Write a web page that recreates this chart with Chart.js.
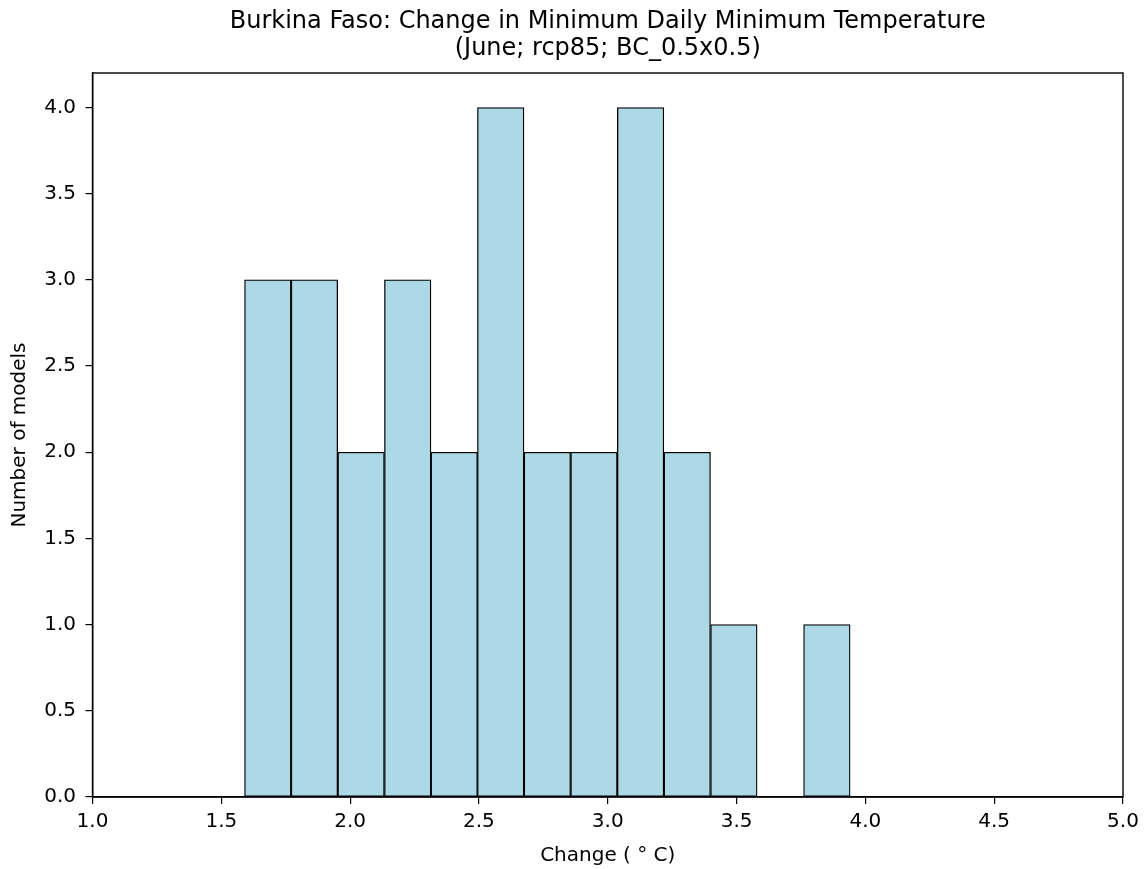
<!DOCTYPE html>
<html>
<head>
<meta charset="utf-8">
<script src="https://cdn.jsdelivr.net/npm/chart.js@4.4.1/dist/chart.umd.min.js"></script>
<style>
  html, body { margin: 0; padding: 0; background: #ffffff; }
  #wrap { width: 1144px; height: 869px; position: relative; }
</style>
</head>
<body>
<div id="wrap"><canvas id="c" width="1144" height="869"></canvas></div>
<script>
// Histogram bin edges (°C) and counts
const binEdges = [1.590, 1.771, 1.952, 2.133, 2.314, 2.494, 2.675, 2.856, 3.037, 3.218, 3.399, 3.580, 3.760, 3.941];
const counts   = [3, 3, 2, 3, 2, 4, 2, 2, 4, 2, 1, 0, 1];
const xTicks = [1.0, 1.5, 2.0, 2.5, 3.0, 3.5, 4.0, 4.5, 5.0];
const yTicks = [0.0, 0.5, 1.0, 1.5, 2.0, 2.5, 3.0, 3.5, 4.0];
const titleLines = ['Burkina Faso: Change in Minimum Daily Minimum Temperature', '(June; rcp85; BC_0.5x0.5)'];
const xLabel = 'Change ( \u00B0 C)';
const yLabel = 'Number of models';

const points = counts.map((c, i) => ({ x: (binEdges[i] + binEdges[i + 1]) / 2, y: c }));

const FONT = 'DejaVu Sans';

const framePlugin = {
  id: 'frame',
  afterDatasetsDraw(chart) {
    const { ctx, chartArea: a } = chart;
    ctx.save();
    ctx.strokeStyle = '#000';
    ctx.lineWidth = 1.4;
    ctx.strokeRect(a.left, a.top, a.right - a.left, a.bottom - a.top);
    ctx.restore();
  }
};

new Chart(document.getElementById('c'), {
  type: 'bar',
  data: {
    datasets: [{
      data: points,
      backgroundColor: '#ADD8E6',
      borderColor: '#000000',
      borderWidth: 1.3,
      barPercentage: 1.0,
      categoryPercentage: 1.0,
      borderSkipped: false
    }]
  },
  options: {
    responsive: false,
    animation: false,
    devicePixelRatio: 1,
    layout: { padding: { left: 0, right: 21, top: 0, bottom: 0 } },
    plugins: {
      legend: { display: false },
      tooltip: { enabled: false },
      title: {
        display: true,
        fullSize: false,
        text: titleLines,
        color: '#000',
        font: { family: FONT, size: 24, weight: 'normal', lineHeight: 1.125 },
        padding: { top: 8.5, bottom: 10.5 }
      }
    },
    scales: {
      x: {
        type: 'linear',
        offset: false,
        min: 1.0,
        max: 5.0,
        afterBuildTicks(axis) { axis.ticks = xTicks.map(v => ({ value: v })); },
        afterFit(axis) { axis.height = 72; axis.paddingLeft = 0; axis.paddingRight = 0; },
        ticks: {
          color: '#000',
          font: { family: FONT, size: 20 },
          padding: 6,
          maxRotation: 0,
          autoSkip: false,
          callback: v => Number(v).toFixed(1)
        },
        grid: { display: true, offset: false, drawOnChartArea: false, drawTicks: true, tickLength: 7, color: '#000', lineWidth: 1.2 },
        border: { display: true, color: '#000', width: 1.4 },
        title: {
          display: true,
          text: xLabel,
          color: '#000',
          font: { family: FONT, size: 20, lineHeight: 1.2 },
          padding: { top: 0, bottom: 1 }
        }
      },
      y: {
        type: 'linear',
        min: 0,
        max: 4.2,
        afterBuildTicks(axis) { axis.ticks = yTicks.map(v => ({ value: v })); },
        afterFit(axis) { axis.width = 92.5; axis.paddingTop = 0; axis.paddingBottom = 0; },
        ticks: {
          color: '#000',
          font: { family: FONT, size: 20 },
          padding: 9.5,
          autoSkip: false,
          callback: v => Number(v).toFixed(1)
        },
        grid: { display: true, drawOnChartArea: false, drawTicks: true, tickLength: 7, color: '#000', lineWidth: 1.2 },
        border: { display: true, color: '#000', width: 1.4 },
        title: {
          display: true,
          text: yLabel,
          color: '#000',
          font: { family: FONT, size: 20, lineHeight: 1.2 },
          padding: { top: 8, bottom: 0 }
        }
      }
    }
  },
  plugins: [framePlugin]
});
</script>
</body>
</html>
